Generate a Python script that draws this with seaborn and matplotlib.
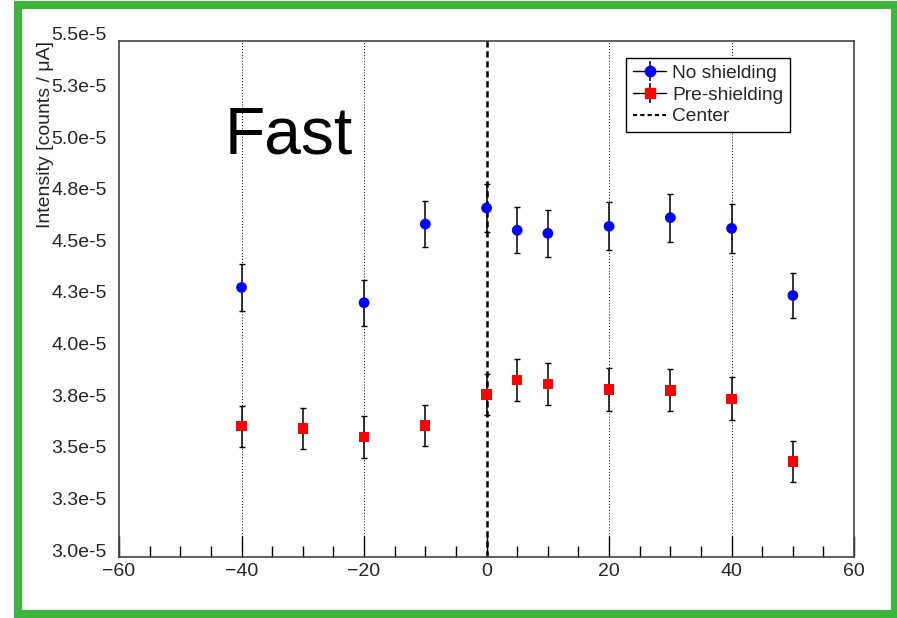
import numpy as np
import pandas as pd
import matplotlib
matplotlib.use("Agg")
import matplotlib.pyplot as plt
import matplotlib.transforms as mtransforms
from matplotlib.lines import Line2D
from matplotlib.patches import Rectangle
import seaborn as sns

# data
positions_no = [-40, -20, -10, 0, 5, 10, 20, 30, 40, 50]
intensity_no = [4.306e-5, 4.232e-5, 4.613e-5, 4.691e-5, 4.583e-5, 4.568e-5, 4.602e-5, 4.644e-5, 4.592e-5, 4.267e-5]
error_no = [0.112e-5, 0.111e-5, 0.113e-5, 0.117e-5, 0.111e-5, 0.114e-5, 0.117e-5, 0.117e-5, 0.117e-5, 0.111e-5]

positions_pre = [-40, -30, -20, -10, 0, 5, 10, 20, 30, 40, 50]
intensity_pre = [3.633e-5, 3.623e-5, 3.581e-5, 3.637e-5, 3.788e-5, 3.859e-5, 3.838e-5, 3.812e-5, 3.807e-5, 3.767e-5, 3.463e-5]
error_pre = [0.100e-5, 0.100e-5, 0.100e-5, 0.100e-5, 0.101e-5, 0.102e-5, 0.103e-5, 0.103e-5, 0.102e-5, 0.103e-5, 0.100e-5]

ytick_values = [3.0e-5, 3.25e-5, 3.5e-5, 3.75e-5, 4.0e-5, 4.25e-5, 4.5e-5, 4.75e-5, 5.0e-5, 5.25e-5, 5.5e-5]
ytick_labels = ["3.0e-5", "3.3e-5", "3.5e-5", "3.8e-5", "4.0e-5", "4.3e-5", "4.5e-5", "4.8e-5", "5.0e-5", "5.3e-5", "5.5e-5"]
xtick_values = [-60, -40, -20, 0, 20, 40, 60]
grid_positions = [-40, -20, 20, 40]

df_no = pd.DataFrame({"pos": positions_no, "val": intensity_no, "err": error_no})
df_pre = pd.DataFrame({"pos": positions_pre, "val": intensity_pre, "err": error_pre})

sns.set_style("white")
plt.rcParams["font.family"] = ["Liberation Sans", "DejaVu Sans"]

fig = plt.figure(figsize=(8.97, 6.18), dpi=100)
ax = fig.add_axes([0.1327, 0.0987, 0.8195, 0.8350])

# green frame around the canvas
fig.patches.append(Rectangle((18 / 897, 4 / 618), (894.5 - 18) / 897, (613 - 4) / 618,
                             transform=fig.transFigure, fill=False,
                             edgecolor="#3db53d", linewidth=5.8, zorder=10))

# vertical dotted grid and center line
for gx in grid_positions:
    ax.axvline(gx, color="black", linestyle=(0, (1, 2)), linewidth=0.7, zorder=1)
ax.axvline(0, color="black", linestyle=(0, (2.5, 1.5)), linewidth=1.8, zorder=2)

# error bars
ax.errorbar(df_no["pos"], df_no["val"], yerr=df_no["err"], fmt="none",
            ecolor="black", elinewidth=1.1, capsize=2.5, capthick=1, zorder=3)
ax.errorbar(df_pre["pos"], df_pre["val"], yerr=df_pre["err"], fmt="none",
            ecolor="black", elinewidth=1.1, capsize=2.5, capthick=1, zorder=3)

# markers
sns.scatterplot(data=df_no, x="pos", y="val", ax=ax, color="#0000ff", marker="o",
                s=60, edgecolor="none", zorder=4, legend=False)
sns.scatterplot(data=df_pre, x="pos", y="val", ax=ax, color="#ff0000", marker="s",
                s=55, edgecolor="none", zorder=4, legend=False)

ax.set_xlim(-60, 60)
ax.set_ylim(3.0e-5, 5.5e-5)
ax.set_xticks(xtick_values)
ax.set_xticks(np.arange(-55, 60, 5), minor=True)
ax.set_xticklabels(["\u221260", "\u221240", "\u221220", "0", "20", "40", "60"])
ax.set_yticks(ytick_values)
ax.set_yticklabels(ytick_labels)
ax.tick_params(axis="x", which="major", direction="in", length=15, width=1,
               labelsize=14, pad=4, bottom=True, top=False, color="black")
ax.tick_params(axis="x", which="minor", direction="in", length=8, width=1,
               bottom=True, top=False, color="black")
ax.tick_params(axis="y", which="both", length=0, labelsize=14, pad=9)
offset = mtransforms.ScaledTranslation(0, 7 / 100, fig.dpi_scale_trans)
for lab in ax.get_yticklabels():
    lab.set_transform(lab.get_transform() + offset)

for sp in ax.spines.values():
    sp.set_visible(True)
    sp.set_color("#444444")
    sp.set_linewidth(1.2)

ax.set_xlabel("")
ax.set_ylabel("Intensity [counts / \u03bcA]", fontsize=14, loc="top")
ax.yaxis.set_label_coords(-0.089, 1.0)

# "Fast" label, placed in figure pixels (baseline)
fig.text(225 / 897, (618 - 154) / 618, "Fast", fontsize=47.5, color="black",
         ha="left", va="baseline")

handles = [
    (Line2D([0], [0], color="black", linewidth=1),
     Line2D([0], [0], color="black", marker="|", markersize=14, linestyle="none", markeredgewidth=1.1),
     Line2D([0], [0], color="#0000ff", marker="o", markersize=7.5, linestyle="none")),
    (Line2D([0], [0], color="black", linewidth=1),
     Line2D([0], [0], color="black", marker="|", markersize=14, linestyle="none", markeredgewidth=1.1),
     Line2D([0], [0], color="#ff0000", marker="s", markersize=7, linestyle="none")),
    Line2D([0], [0], color="black", linestyle=(0, (2, 1.5)), linewidth=1.5),
]
leg = ax.legend(handles, ["No shielding", "Pre-shielding", "Center"],
                loc="upper left", bbox_to_anchor=(0.690, 0.967), fontsize=13.8,
                frameon=True, fancybox=False, framealpha=1, edgecolor="black",
                borderpad=0.35, labelspacing=0.22, handlelength=1.75,
                handletextpad=0.3, borderaxespad=0)
leg.get_frame().set_linewidth(1)

fig.savefig("out.png", dpi=100)
